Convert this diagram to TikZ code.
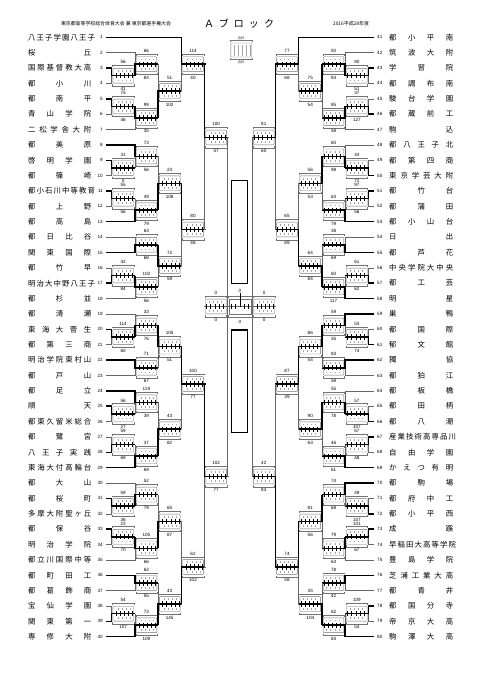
\documentclass[tikz,border=0pt]{standalone}
\usepackage{fontspec}
\setmainfont{Liberation Sans}
\newfontfamily\jp{Noto Sans CJK JP}
\usetikzlibrary{calc}

\tikzset{
  lose/.style={draw=black!60, line width=0.5pt},
  win/.style={draw=black, line width=1.5pt},
  boxline/.style={draw=black!55, line width=0.4pt},
  gdot/.style={draw=black!35, line width=0.5pt},
  tick/.style={draw=black, line width=0.5pt},
  sc/.style={font=\fontsize{4.6}{5}\selectfont, inner sep=0pt},
  num/.style={font=\fontsize{4.6}{5}\selectfont, inner sep=0pt},
  team/.style={font=\jp\fontsize{7.4}{8}\selectfont, inner sep=0pt},
}

% column positions (px)
\def\Lone{111.5}\def\Ltwo{134.8}\def\Lthree{158.1}\def\Lfour{181.4}\def\Lfive{204.6}\def\Lsix{227.5}
\def\Rone{368.5}\def\Rtwo{345.2}\def\Rthree{321.9}\def\Rfour{298.6}\def\Rfive{275.4}\def\Rsix{252.5}

% one bout: name, column x, top in, bottom in, top score, bottom score, winner t/b/n, side 1/-1, middle y or a
\newcommand\bout[9]{%
  \path let \p1=(#3), \p2=(#4) in
    coordinate (#1-a) at (#2pt,\y1)
    coordinate (#1-b) at (#2pt,\y2)
    coordinate (#1-c) at (#2pt,{0.5*(\y1+\y2)});
  \ifx a#9\else\coordinate (#1-c) at (#2,#9);\fi
  \coordinate (#1) at ($(#1-c)+({#8*23.3},0)$);
  \begin{scope}[shift={(#1-c)},xscale=#8]
    \draw[boxline,rounded corners=0.6pt] (1.3,-7.4) rectangle (22,7.4);
    \draw[boxline] (0.9,-8.6) -- (0.9,-10.2) -- (22.4,-10.2) -- (22.4,-8.6);
    \draw[boxline] (0.9,8.6) -- (0.9,10.2) -- (22.4,10.2) -- (22.4,8.6);
    \foreach \k in {4.5,8.6,12.7,16.8} {
      \draw[gdot] (\k+1.8,-5.6) -- (\k+1.8,-3.8);
      \draw[gdot] (\k+1.8,3.8) -- (\k+1.8,5.6);
    }
    \node[sc] (#1-u) at (11.6,-13.4) {#5};
    \node[sc] (#1-d) at (11.6,13.4) {#6};
  \end{scope}
  \draw[lose] (#3) -- (#1-a) -- (#1-b) -- (#4);
  \draw[lose] (#1-c) -- (#1);
  \if t#7\draw[win] (#3) -- (#1-a) -- (#1-c) -- (#1);\fi
  \if b#7\draw[win] (#4) -- (#1-b) -- (#1-c) -- (#1);\fi
  \begin{scope}[shift={(#1-c)},xscale=#8]
    \foreach \k in {4.5,8.6,12.7,16.8,20.9} \draw[tick] (\k,-2.6) -- (\k,2.6);
  \end{scope}
}

\begin{document}
\begin{tikzpicture}[x=1pt,y=-1pt]
\path[use as bounding box,fill=white] (0,0) rectangle (481,680);

% header
\node[font=\jp\fontsize{4.9}{5}\selectfont,inner sep=0pt] (hdl) at (116,23.5) {東京都高等学校総合体育大会 兼 東京都選手権大会};
\node[font=\jp\fontsize{10}{12}\selectfont,inner sep=0pt] (ttl) at (239,24) {\makebox[70pt][s]{Ａ ブ ロ ッ ク}};
\node[font=\jp\fontsize{4.9}{5}\selectfont,inner sep=0pt] (hdr) at (351,23.5) {2016平成28年度};

% legend
\begin{scope}[shift={(229.5,50)}]
  \draw[boxline,rounded corners=0.6pt] (1.3,-7) rectangle (22,7);
  \draw[boxline] (0.9,-8.2) -- (0.9,-9.6) -- (22.4,-9.6) -- (22.4,-8.2);
  \draw[boxline] (0.9,8.2) -- (0.9,9.6) -- (22.4,9.6) -- (22.4,8.2);
  \foreach \k in {4.5,8.6,12.7,16.8,20.9} \draw[gdot] (\k,-5.5) -- (\k,5.5);
  \node[font=\jp\fontsize{3.2}{4}\selectfont,inner sep=0pt] (lg-u) at (11.6,-12.2) {合計};
  \node[font=\jp\fontsize{3.2}{4}\selectfont,inner sep=0pt] (lg-d) at (11.6,12.2) {合計};
\end{scope}

% teams, left
\foreach \i/\nm in {1/八 王 子 学 園 八 王 子,2/桜 丘,3/国 際 基 督 教 大 高,4/都 小 川,5/都 南 平,
  6/青 山 学 院,7/二 松 学 舎 大 附,8/都 美 原,9/啓 明 学 園,10/都 篠 崎,
  11/都 小 石 川 中 等 教 育,12/都 上 野,13/都 高 島,14/都 日 比 谷,15/関 東 国 際,
  16/都 竹 早,17/明 治 大 中 野 八 王 子,18/都 杉 並,19/都 清 瀬,20/東 海 大 菅 生,
  21/都 第 三 商,22/明 治 学 院 東 村 山,23/都 戸 山,24/都 足 立,25/順 天,
  26/都 東 久 留 米 総 合,27/都 鷺 宮,28/八 王 子 実 践,29/東 海 大 付 高 輪 台,30/都 大 山,
  31/都 桜 町,32/多 摩 大 附 聖 ヶ 丘,33/都 保 谷,34/明 治 学 院,35/都 立 川 国 際 中 等,
  36/都 町 田 工,37/都 葛 飾 商,38/宝 仙 学 園,39/関 東 第 一,40/専 修 大 附} {
  \node[team,anchor=west] (n\i) at (28,{37.3+(\i-1)*15.37}) {\makebox[63pt][s]{\nm}};
  \node[num,anchor=east] (k\i) at (103,{37.3+(\i-1)*15.37}) {\i};
  \coordinate (t\i) at (106,{37.3+(\i-1)*15.37});
}
% teams, right
\foreach \i/\nm in {41/都 小 平 南,42/筑 波 大 附,43/学 習 院,44/都 調 布 南,45/駿 台 学 園,
  46/都 蔵 前 工,47/駒 込,48/都 八 王 子 北,49/都 第 四 商,50/東 京 学 芸 大 附,
  51/都 竹 台,52/都 蒲 田,53/都 小 山 台,54/日 出,55/都 芦 花,
  56/中 央 学 院 大 中 央,57/都 工 芸,58/明 星,59/巣 鴨,60/都 国 際,
  61/郁 文 館,62/獨 協,63/都 狛 江,64/都 板 橋,65/都 田 柄,
  66/都 八 潮,67/産 業 技 術 高 専 品 川,68/自 由 学 園,69/か え つ 有 明,70/都 駒 場,
  71/都 府 中 工,72/都 小 平 西,73/成 蹊,74/早 稲 田 大 高 等 学 院,75/豊 島 学 院,
  76/芝 浦 工 業 大 高,77/都 青 井,78/都 国 分 寺,79/帝 京 大 高,80/駒 澤 大 高} {
  \node[team,anchor=west] (n\i) at (389,{37.3+(\i-41)*15.37}) {\makebox[64pt][s]{\nm}};
  \node[num,anchor=west] (k\i) at (377,{37.3+(\i-41)*15.37}) {\i};
  \coordinate (t\i) at (374,{37.3+(\i-41)*15.37});
}

% left block
\bout{a1}{\Lone}{t3}{t4}{56}{41}{t}{1}{a}
\bout{a2}{\Lone}{t5}{t6}{75}{46}{t}{1}{a}
\bout{a3}{\Ltwo}{t2}{a1}{66}{84}{b}{1}{a}
\bout{a4}{\Ltwo}{a2}{t7}{99}{35}{t}{1}{a}
\bout{a5}{\Lthree}{a3}{a4}{51}{102}{b}{1}{a}
\bout{a6}{\Lfour}{t1}{a5}{114}{40}{t}{1}{a}
\bout{b1}{\Lone}{t9}{t10}{31}{0}{t}{1}{a}
\bout{b2}{\Ltwo}{t8}{b1}{73}{56}{t}{1}{a}
\bout{b3}{\Lone}{t11}{t12}{55}{56}{t}{1}{a}
\bout{b4}{\Ltwo}{b3}{t13}{49}{79}{b}{1}{a}
\bout{b5}{\Lthree}{b2}{b4}{23}{108}{b}{1}{a}
\bout{b6}{\Ltwo}{t14}{t15}{63}{68}{b}{1}{a}
\bout{b7}{\Lone}{t16}{t17}{42}{84}{b}{1}{a}
\bout{b8}{\Ltwo}{b7}{t18}{102}{56}{t}{1}{a}
\bout{b9}{\Lthree}{b6}{b8}{72}{59}{t}{1}{a}
\bout{b10}{\Lfour}{b5}{b9}{80}{48}{t}{1}{229.5}
\bout{s1}{\Lfive}{a6}{b10}{100}{57}{t}{1}{137.5}
\bout{c1}{\Lone}{t20}{t21}{114}{60}{t}{1}{a}
\bout{c2}{\Ltwo}{t19}{c1}{33}{76}{b}{1}{a}
\bout{c3}{\Ltwo}{t22}{t23}{71}{67}{t}{1}{a}
\bout{c4}{\Lthree}{c2}{c3}{105}{51}{t}{1}{a}
\bout{c5}{\Lone}{t25}{t26}{56}{27}{t}{1}{a}
\bout{c6}{\Ltwo}{t24}{c5}{119}{39}{t}{1}{a}
\bout{c7}{\Lone}{t27}{t28}{59}{69}{b}{1}{a}
\bout{c8}{\Ltwo}{c7}{t29}{37}{69}{b}{1}{a}
\bout{c9}{\Lthree}{c6}{c8}{43}{82}{b}{1}{a}
\bout{c10}{\Lfour}{c4}{c9}{100}{77}{t}{1}{384}
\bout{d1}{\Lone}{t31}{t32}{59}{36}{t}{1}{a}
\bout{d2}{\Ltwo}{t30}{d1}{52}{79}{b}{1}{a}
\bout{d3}{\Lone}{t33}{t34}{23}{70}{t}{1}{a}
\bout{d4}{\Ltwo}{d3}{t35}{105}{66}{t}{1}{a}
\bout{d5}{\Lthree}{d2}{d4}{65}{87}{b}{1}{a}
\bout{d6}{\Ltwo}{t36}{t37}{62}{55}{t}{1}{a}
\bout{d7}{\Lone}{t38}{t39}{54}{107}{b}{1}{a}
\bout{d8}{\Ltwo}{d7}{t40}{73}{109}{b}{1}{a}
\bout{d9}{\Lthree}{d6}{d8}{43}{145}{b}{1}{a}
\bout{d10}{\Lfour}{d5}{d9}{62}{102}{b}{1}{567}
\bout{s2}{\Lfive}{c10}{d10}{102}{77}{t}{1}{476.5}

% right block
\bout{e1}{\Rone}{t43}{t44}{80}{51}{t}{-1}{a}
\bout{e2}{\Rtwo}{t42}{e1}{50}{84}{b}{-1}{a}
\bout{e3}{\Rone}{t45}{t46}{37}{127}{b}{-1}{a}
\bout{e4}{\Rtwo}{e3}{t47}{85}{58}{t}{-1}{a}
\bout{e5}{\Rthree}{e2}{e4}{75}{54}{t}{-1}{a}
\bout{e6}{\Rfour}{t41}{e5}{77}{68}{t}{-1}{a}
\bout{g1}{\Rone}{t49}{t50}{44}{71}{b}{-1}{a}
\bout{g2}{\Rtwo}{t48}{g1}{60}{98}{b}{-1}{a}
\bout{g3}{\Rone}{t51}{t52}{97}{56}{t}{-1}{a}
\bout{g4}{\Rtwo}{g3}{t53}{63}{79}{b}{-1}{a}
\bout{g5}{\Rthree}{g2}{g4}{56}{53}{t}{-1}{a}
\bout{g6}{\Rtwo}{t54}{t55}{38}{69}{b}{-1}{a}
\bout{g7}{\Rone}{t56}{t57}{61}{62}{b}{-1}{a}
\bout{g8}{\Rtwo}{g7}{t58}{60}{117}{b}{-1}{a}
\bout{g9}{\Rthree}{g6}{g8}{64}{84}{b}{-1}{a}
\bout{g10}{\Rfour}{g5}{g9}{65}{89}{b}{-1}{229.5}
\bout{s3}{\Rfive}{e6}{g10}{81}{60}{t}{-1}{137.5}
\bout{h1}{\Rone}{t60}{t61}{53}{74}{b}{-1}{a}
\bout{h2}{\Rtwo}{t59}{h1}{59}{35}{t}{-1}{a}
\bout{h3}{\Rtwo}{t62}{t63}{83}{58}{t}{-1}{a}
\bout{h4}{\Rthree}{h2}{h3}{86}{54}{t}{-1}{a}
\bout{h5}{\Rone}{t65}{t66}{57}{107}{b}{-1}{a}
\bout{h6}{\Rtwo}{t64}{h5}{55}{78}{b}{-1}{a}
\bout{h7}{\Rone}{t67}{t68}{67}{48}{t}{-1}{a}
\bout{h8}{\Rtwo}{h7}{t69}{46}{61}{b}{-1}{a}
\bout{h9}{\Rthree}{h6}{h8}{90}{63}{t}{-1}{a}
\bout{h10}{\Rfour}{h4}{h9}{87}{39}{t}{-1}{384}
\bout{j1}{\Rone}{t71}{t72}{49}{107}{b}{-1}{a}
\bout{j2}{\Rtwo}{t70}{j1}{74}{68}{t}{-1}{a}
\bout{j3}{\Rone}{t73}{t74}{101}{67}{t}{-1}{a}
\bout{j4}{\Rtwo}{j3}{t75}{79}{63}{t}{-1}{a}
\bout{j5}{\Rthree}{j2}{j4}{81}{56}{t}{-1}{a}
\bout{j6}{\Rtwo}{t76}{t77}{78}{42}{t}{-1}{a}
\bout{j7}{\Rone}{t78}{t79}{109}{54}{t}{-1}{a}
\bout{j8}{\Rtwo}{j7}{t80}{62}{83}{b}{-1}{a}
\bout{j9}{\Rthree}{j6}{j8}{35}{104}{b}{-1}{a}
\bout{j10}{\Rfour}{j5}{j9}{74}{58}{t}{-1}{567}
\bout{s4}{\Rfive}{h10}{j10}{42}{83}{b}{-1}{476.5}

% semifinals and final
\bout{f1}{\Lsix}{s1}{s2}{0}{0}{n}{-1}{306.5}
\bout{f2}{\Rsix}{s3}{s4}{0}{0}{n}{1}{306.5}
\coordinate (fin) at (240,306.5);
\draw[boxline] (229,299.3) rectangle (251,313.7);
\draw[boxline] (228.2,298) |- (251.8,296.3) -- (251.8,298);
\draw[boxline] (228.2,315) |- (251.8,316.7) -- (251.8,315);
\draw[lose] (f1-c) -- (f2-c);
\foreach \k in {231.5,235.5,244.5,248.5} \draw[tick] (\k,303.9) -- (\k,309.1);
\draw[tick] (fin) -- ++(0,-14);
\node[sc] (fin-u) at (240,291) {0};
\node[sc] (fin-d) at (240,322) {0};

% name plates
\draw[line width=1.1pt] (231.8,180.7) rectangle (247.6,283.3);
\draw[line width=1.1pt] (231.8,330) rectangle (247.6,432.7);
\end{tikzpicture}
\end{document}
